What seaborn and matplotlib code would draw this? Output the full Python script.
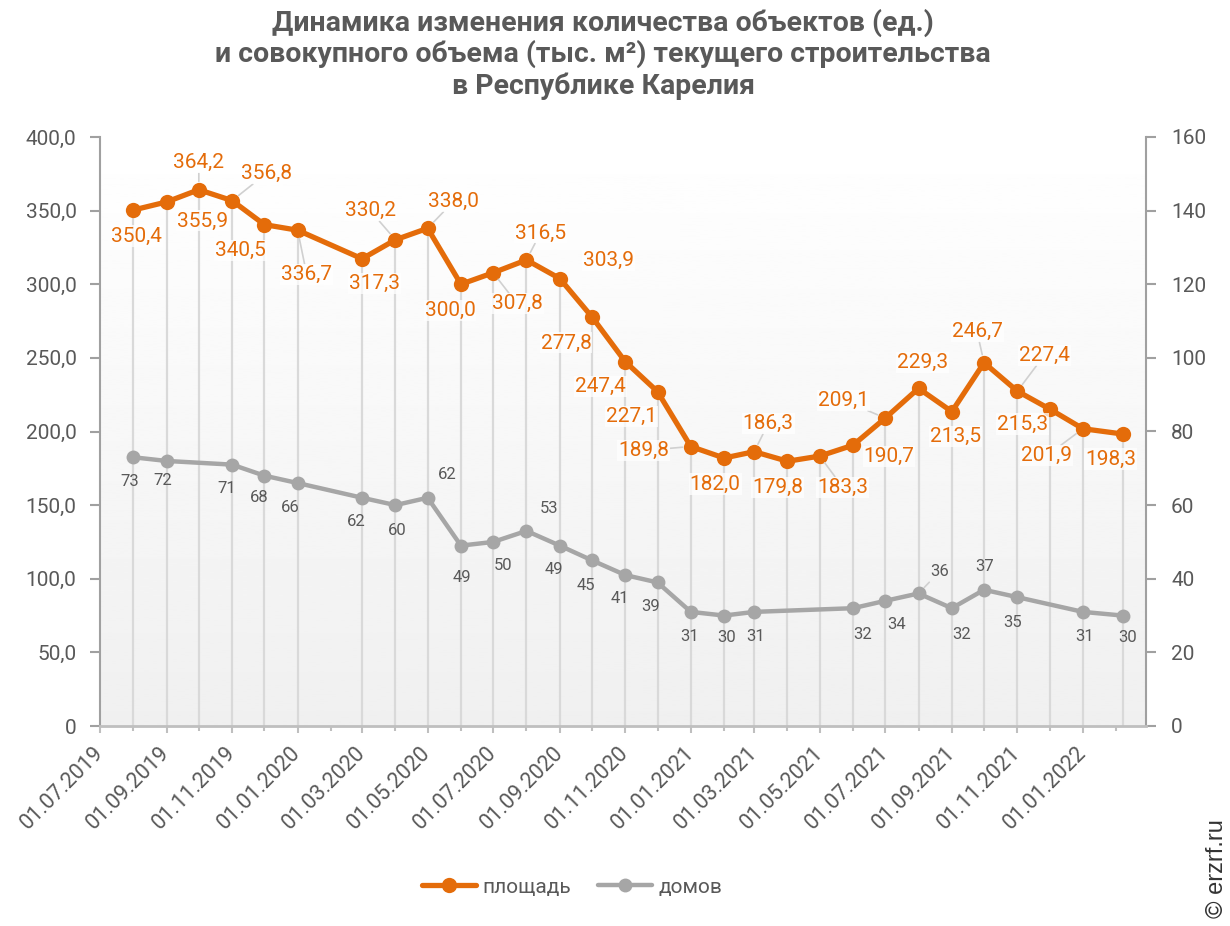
import numpy as np
import pandas as pd
import matplotlib
matplotlib.use('Agg')
import matplotlib.pyplot as plt
import matplotlib.dates as mdates
from matplotlib.lines import Line2D
from matplotlib.ticker import FuncFormatter, MultipleLocator
import seaborn as sns

sns.set_style('white')
plt.rcParams['font.family'] = ['Roboto', 'DejaVu Sans']

# площадь, тыс. м2 (левая ось)
area_dates = ['2019-08-01', '2019-09-01', '2019-10-01', '2019-11-01', '2019-12-01',
              '2020-01-01', '2020-03-01', '2020-04-01', '2020-05-01', '2020-06-01',
              '2020-07-01', '2020-08-01', '2020-09-01', '2020-10-01', '2020-11-01',
              '2020-12-01', '2021-01-01', '2021-02-01', '2021-03-01', '2021-04-01',
              '2021-05-01', '2021-06-01', '2021-07-01', '2021-08-01', '2021-09-01',
              '2021-10-01', '2021-11-01', '2021-12-01', '2022-01-01', '2022-02-07']
area_values = [350.4, 355.9, 364.2, 356.8, 340.5, 336.7, 317.3, 330.2, 338.0, 300.0,
               307.8, 316.5, 303.9, 277.8, 247.4, 227.1, 189.8, 182.0, 186.3, 179.8,
               183.3, 190.7, 209.1, 229.3, 213.5, 246.7, 227.4, 215.3, 201.9, 198.3]

# домов, ед. (правая ось)
homes_dates = ['2019-08-01', '2019-09-01', '2019-11-01', '2019-12-01', '2020-01-01',
               '2020-03-01', '2020-04-01', '2020-05-01', '2020-06-01', '2020-07-01',
               '2020-08-01', '2020-09-01', '2020-10-01', '2020-11-01', '2020-12-01',
               '2021-01-01', '2021-02-01', '2021-03-01', '2021-06-01', '2021-07-01',
               '2021-08-01', '2021-09-01', '2021-10-01', '2021-11-01', '2022-01-01',
               '2022-02-07']
homes_values = [73, 72, 71, 68, 66, 62, 60, 62, 49, 50, 53, 49, 45, 41, 39,
                31, 30, 31, 32, 34, 36, 32, 37, 35, 31, 30]

# label offsets in pixels (dx right, dy down) - layout only
area_off = [(3, 26), (36, 19), (0, -27), (34, -27), (-24, 26), (9, 44), (12, 25), (-25, -29),
            (26, -27), (-11, 26), (24, 31), (14, -27), (49, -18), (-26, 26), (-25, 25),
            (-26, 25), (-47, 4), (-9, 26), (14, -28), (-10, 26), (23, 31), (36, 11),
            (-42, -18), (4, -26), (4, 25), (-7, -31), (27, -36), (-27, 15), (-36, 27), (-12, 25)]
area_leader = [2, 3, 5, 7, 8, 10, 11, 16, 18, 20, 22, 25, 26, 28]
homes_off = [(-4, 24), (-4, 20), (-5, 24), (-5, 22), (-7, 24), (-6, 24), (2, 25), (20, -23),
             (1, 32), (10, 24), (23, -22), (-6, 24), (-6, 25), (-5, 23), (-7, 24), (-1, 25),
             (3, 22), (1, 25), (10, 26), (11, 24), (21, -22), (10, 26), (1, -23), (-5, 25),
             (2, 25), (5, 22)]
homes_leader = [20]

orange = '#E46C0A'
grey = '#A6A6A6'
text_grey = '#595959'

area_df = pd.DataFrame({'date': pd.to_datetime(area_dates), 'value': area_values})
homes_df = pd.DataFrame({'date': pd.to_datetime(homes_dates), 'value': homes_values})

fig = plt.figure(figsize=(12.3, 9.26), dpi=100)
ax = fig.add_axes([100 / 1230, 1 - 726 / 926, 1046 / 1230, 589 / 926])
ax2 = ax.twinx()
ax.set_zorder(ax2.get_zorder() + 1)
ax.patch.set_visible(False)

# gradient background
grad = np.linspace(0.94, 1.0, 256).reshape(-1, 1)
ax2.imshow(grad, extent=[0, 1, 0, 1], transform=ax2.transAxes, origin='lower',
           aspect='auto', cmap='gray', vmin=0, vmax=1, zorder=0)

ymax1, ymax2 = 400, 160
ax2.vlines(area_df['date'], 0, area_df['value'] * ymax2 / ymax1, color='#D9D9D9', lw=1.6, zorder=1)

sns.lineplot(data=homes_df, x='date', y='value', ax=ax2, color=grey, lw=3.2,
             marker='o', markersize=10, markeredgewidth=0, legend=False, zorder=3)
sns.lineplot(data=area_df, x='date', y='value', ax=ax, color=orange, lw=3.8,
             marker='o', markersize=11, markeredgewidth=0, legend=False, zorder=3)

ax.set_xlim(pd.Timestamp('2019-07-01'), pd.Timestamp('2022-02-28 18:00'))
ax.set_ylim(0, ymax1)
ax2.set_ylim(0, ymax2)
ax.set_xlabel('')
ax.set_ylabel('')
ax2.set_ylabel('')

# data labels
for i, (d, v) in enumerate(zip(area_df['date'], area_values)):
    dx, dy = area_off[i]
    ap = None
    if i in area_leader:
        ap = dict(arrowstyle='-', color='#D0D0D0', lw=1.2, shrinkA=0, shrinkB=6)
    ax.annotate(f'{v:.1f}'.replace('.', ','), xy=(d, v), xytext=(dx, -dy),
                textcoords='offset pixels', ha='center', va='center', fontsize=15,
                color=orange, arrowprops=ap, zorder=5,
                bbox=dict(boxstyle='square,pad=0.05', fc='white', ec='none', alpha=0.75))

for i, (d, v) in enumerate(zip(homes_df['date'], homes_values)):
    dx, dy = homes_off[i]
    ap = None
    if i in homes_leader:
        ap = dict(arrowstyle='-', color='#D0D0D0', lw=1.2, shrinkA=0, shrinkB=6)
    ax2.annotate(str(v), xy=(d, v), xytext=(dx, -dy), textcoords='offset pixels',
                 ha='center', va='center', fontsize=12, color=text_grey,
                 arrowprops=ap, zorder=5)

# axes styling
ax.yaxis.set_major_locator(MultipleLocator(50))
ax.yaxis.set_major_formatter(FuncFormatter(lambda v, _: '0' if v == 0 else f'{v:.1f}'.replace('.', ',')))
ax2.yaxis.set_major_locator(MultipleLocator(20))
ax2.yaxis.set_major_formatter(FuncFormatter(lambda v, _: f'{v:.0f}'))

ax.xaxis.set_major_locator(mdates.MonthLocator(bymonth=[1, 3, 5, 7, 9, 11]))
ax.xaxis.set_minor_locator(mdates.MonthLocator())
ax.xaxis.set_major_formatter(mdates.DateFormatter('%d.%m.%Y'))

for s in ['top', 'right']:
    ax.spines[s].set_visible(False)
for s in ['top', 'left', 'bottom']:
    ax2.spines[s].set_visible(False)
ax.spines['left'].set_color('#A0A0A0')
ax.spines['left'].set_linewidth(1.5)
ax.spines['bottom'].set_color('#BFBFBF')
ax.spines['bottom'].set_linewidth(2)
ax2.spines['right'].set_color('#A0A0A0')
ax2.spines['right'].set_linewidth(1.5)

ax.tick_params(axis='y', length=7, width=1.5, color='#A0A0A0', labelsize=15,
               labelcolor=text_grey, pad=10, left=True)
ax2.tick_params(axis='y', length=7, width=1.5, color='#A0A0A0', labelsize=15,
                labelcolor=text_grey, pad=11, right=True)
ax.tick_params(axis='x', which='major', length=5, width=1.5, color='#BFBFBF',
               labelsize=15.5, labelcolor=text_grey, pad=12, bottom=True)
ax.tick_params(axis='x', which='minor', length=3.5, width=1.5, color='#BFBFBF', bottom=True)
plt.setp(ax.get_xticklabels(), rotation=45, ha='right', va='center', rotation_mode='anchor')
ax.grid(False)
ax2.grid(False)

# title
fig.text(603 / 1230, 1 - 54 / 926,
         'Динамика изменения количества объектов (ед.)\n'
         'и совокупного объема (тыс. м²) текущего строительства\n'
         'в Республике Карелия',
         ha='center', va='center', fontsize=20.5, fontweight='bold', color=text_grey,
         family=['Roboto', 'DejaVu Sans'], linespacing=1.17)

# legend
handles = [Line2D([], [], color=orange, lw=3.8, marker='o', markersize=11, mew=0),
           Line2D([], [], color=grey, lw=3.2, marker='o', markersize=10, mew=0)]
fig.legend(handles, ['площадь', 'домов'], loc='center', bbox_to_anchor=(572 / 1230, 1 - 887 / 926),
           ncol=2, frameon=False, fontsize=15, labelcolor=text_grey, handlelength=2.6,
           handletextpad=0.3, columnspacing=1.3)

fig.text(1217 / 1230, 1 - 869 / 926, '© erzrf.ru', rotation=90, ha='center', va='center',
         fontsize=17, color='#333333', family=['Liberation Sans', 'DejaVu Sans'])

fig.savefig('out.png', dpi=100)
